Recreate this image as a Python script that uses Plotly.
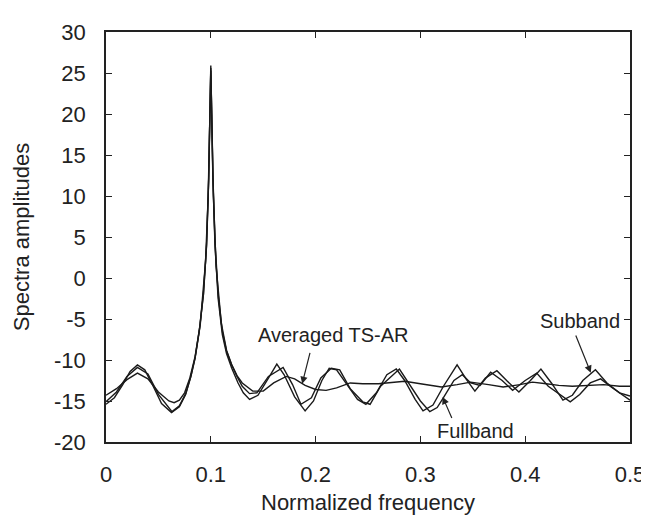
import plotly.graph_objects as go

# ---- data ----
subband_x = [0, 0.008, 0.016, 0.023, 0.030, 0.037, 0.045, 0.053, 0.0625, 0.07, 0.076, 0.081, 0.085, 0.089,
             0.093, 0.096, 0.098, 0.1, 0.102, 0.104, 0.107, 0.111, 0.115, 0.12, 0.126, 0.131, 0.137, 0.145,
             0.155, 0.163, 0.17, 0.18, 0.19, 0.198, 0.206, 0.213, 0.22, 0.23, 0.24, 0.248, 0.258, 0.268,
             0.277, 0.285, 0.295, 0.3025, 0.312, 0.322, 0.335, 0.344, 0.352, 0.362, 0.373, 0.383, 0.394,
             0.405, 0.415, 0.425, 0.436, 0.445, 0.455, 0.467, 0.478, 0.49, 0.5]
subband_y = [-15.4, -14.6, -13.0, -11.4, -10.6, -11.2, -13.2, -15.3, -16.4, -15.7, -14.2, -12.0, -9.8, -6.5,
             -2.0, 4.0, 12.0, 25.9, 12.0, 4.0, -2.5, -6.9, -9.2, -11.0, -12.8, -14.0, -14.8, -14.3,
             -12.2, -10.5, -11.8, -14.5, -16.2, -15.0, -12.5, -11.0, -11.2, -13.0, -14.8, -15.4, -14.0, -11.8,
             -11.1, -12.5, -14.8, -16.2, -15.5, -13.2, -10.6, -12.4, -13.8, -12.2, -11.3, -12.6, -13.9,
             -12.5, -11.1, -12.8, -14.9, -14.3, -12.5, -11.2, -12.8, -14.0, -14.4]

fullband_x = [0, 0.01, 0.02, 0.03, 0.04, 0.05, 0.063, 0.07, 0.076, 0.081, 0.085, 0.089, 0.093, 0.096, 0.098,
              0.1, 0.102, 0.104, 0.107, 0.111, 0.115, 0.12, 0.125, 0.13, 0.137, 0.144, 0.155, 0.169, 0.178,
              0.186, 0.196, 0.205, 0.215, 0.223, 0.233, 0.245, 0.252, 0.262, 0.28, 0.29, 0.3, 0.309, 0.316,
              0.322, 0.332, 0.34, 0.348, 0.357, 0.367, 0.378, 0.388, 0.4, 0.411, 0.422, 0.443, 0.452, 0.462,
              0.472, 0.482, 0.5]
fullband_y = [-15.1, -13.9, -12.0, -10.9, -11.7, -14.2, -16.3, -15.6, -14.1, -12.0, -9.7, -6.4, -1.9, 4.2, 12.2,
              25.6, 12.5, 4.5, -2.0, -6.5, -8.9, -10.6, -12.0, -13.2, -14.1, -14.0, -12.0, -10.9, -13.0,
              -15.4, -14.6, -12.2, -11.0, -11.2, -13.5, -15.1, -15.4, -13.2, -11.1, -13.0, -15.0, -16.3, -15.8,
              -14.6, -12.5, -11.8, -12.8, -13.1, -11.5, -12.5, -13.7, -12.5, -11.6, -13.2, -15.1, -14.2, -12.8,
              -12.3, -13.3, -14.9]

avg_x = [0, 0.01, 0.02, 0.03, 0.04, 0.05, 0.06, 0.065, 0.07, 0.075, 0.08, 0.085, 0.09, 0.095, 0.0975, 0.1,
         0.1025, 0.105, 0.11, 0.115, 0.12, 0.125, 0.13, 0.14, 0.15, 0.16, 0.172, 0.18, 0.19, 0.2, 0.21, 0.22,
         0.233, 0.245, 0.26, 0.285, 0.3, 0.32, 0.335, 0.348, 0.365, 0.379, 0.395, 0.407, 0.42, 0.432, 0.445,
         0.46, 0.475, 0.49, 0.5]
avg_y = [-14.3, -13.5, -12.4, -11.6, -12.3, -13.9, -15.0, -15.2, -14.9, -14.0, -12.2, -9.6, -5.6, 2.0, 10.0, 25.3,
         10.0, 1.5, -5.5, -8.8, -10.6, -11.9, -12.8, -13.8, -13.8, -12.8, -12.0, -12.3, -13.1, -13.6, -13.7, -13.4,
         -12.8, -12.9, -12.9, -12.6, -12.9, -13.3, -13.0, -12.7, -13.0, -13.3, -13.0, -12.7, -12.9, -13.1, -13.2,
         -13.1, -13.0, -13.2, -13.2]

x_tick_vals = [0, 0.1, 0.2, 0.3, 0.4, 0.5]
x_tick_text = ["0", "0.1", "0.2", "0.3", "0.4", "0.5"]
y_tick_vals = [-20, -15, -10, -5, 0, 5, 10, 15, 20, 25, 30]
y_tick_text = ["-20", "-15", "-10", "-5", "0", "5", "10", "15", "20", "25", "30"]

FONT = "Liberation Sans, Arial, sans-serif"
INK = "#1a1a1a"

fig = go.Figure()
for xs, ys, name in [(avg_x, avg_y, "Averaged TS-AR"), (fullband_x, fullband_y, "Fullband"),
                     (subband_x, subband_y, "Subband")]:
    fig.add_trace(go.Scatter(x=xs, y=ys, mode="lines", name=name,
                             line=dict(color=INK, width=1.4)))

axis_common = dict(showline=True, linecolor="#222", linewidth=1.5, mirror="ticks",
                   ticks="inside", ticklen=6, tickwidth=1.3, tickcolor="#222",
                   showgrid=False, zeroline=False,
                   tickfont=dict(family=FONT, size=22, color="#222"))

fig.update_xaxes(range=[0, 0.5], tickvals=x_tick_vals, ticktext=x_tick_text,
                 ticklabelstandoff=12,
                 title=dict(text="Normalized frequency", font=dict(family=FONT, size=22, color="#222"),
                            standoff=8),
                 **axis_common)
fig.update_yaxes(range=[-20, 30], tickvals=y_tick_vals, ticktext=y_tick_text,
                 ticklabelstandoff=14,
                 title=dict(text="Spectra amplitudes", font=dict(family=FONT, size=22, color="#222"),
                            standoff=18),
                 **axis_common)

labels = [
    # text, text x, text y, tail x, tail y, tip x, tip y
    ("Averaged TS-AR", 0.2168, -6.94, 0.195, -8.95, 0.1872, -12.9),
    ("Fullband", 0.3523, -18.69, 0.3306, -17.27, 0.3212, -14.5),
    ("Subband", 0.4523, -5.27, 0.4477, -6.82, 0.4626, -11.55),
]
for text, tx, ty, ax_, ay_, hx, hy in labels:
    fig.add_annotation(x=tx, y=ty, text=text, showarrow=False,
                       font=dict(family=FONT, size=20, color="#222"))
    fig.add_annotation(x=hx, y=hy, ax=ax_, ay=ay_, axref="x", ayref="y", text="",
                       showarrow=True, arrowhead=2, arrowsize=1.2, arrowwidth=1.2,
                       arrowcolor="#222")

fig.update_layout(width=649, height=515, showlegend=False,
                  paper_bgcolor="white", plot_bgcolor="white",
                  margin=dict(l=98, r=16, t=22, b=72),
                  font=dict(family=FONT, color="#222"))

fig.write_html("out.html")
